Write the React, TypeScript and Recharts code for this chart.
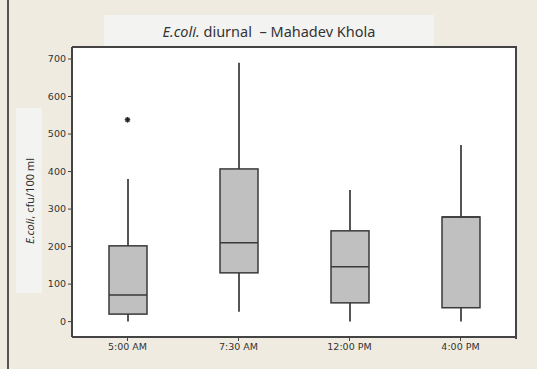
import { ComposedChart, Bar, Scatter, XAxis, YAxis, CartesianGrid } from 'recharts';

const categories = ['5:00 AM', '7:30 AM', '12:00 PM', '4:00 PM'];
const mins = [0, 26, 0, 0];
const q1s = [20, 130, 50, 37];
const medians = [71, 210, 146, 279];
const q3s = [202, 407, 242, 279];
const maxs = [380, 690, 351, 471];
const outliers: (number | null)[] = [538, null, null, null];
const yTicks = [0, 100, 200, 300, 400, 500, 600, 700];

const data = categories.map((name, i) => ({
    name,
    min: mins[i],
    q1: q1s[i],
    median: medians[i],
    q3: q3s[i],
    max: maxs[i],
    outlier: outliers[i],
}));

// draws whiskers, box and median from the range bar [min, max]
const BoxShape = (props: any) => {
    const { x, y, width, height, payload } = props;
    const k = height / (payload.max - payload.min);
    const py = (v: number) => y + (payload.max - v) * k;
    const cx = x + width / 2;
    return (
        <g>
            <line x1={cx} x2={cx} y1={py(payload.max)} y2={py(payload.q3)} stroke="#555" strokeWidth={2} />
            <line x1={cx} x2={cx} y1={py(payload.q1)} y2={py(payload.min)} stroke="#555" strokeWidth={2} />
            <rect
                x={x}
                y={py(payload.q3)}
                width={width}
                height={py(payload.q1) - py(payload.q3)}
                fill="#c0c0c0"
                stroke="#3a3a3a"
                strokeWidth={1.5}
            />
            <line x1={x} x2={x + width} y1={py(payload.median)} y2={py(payload.median)} stroke="#3a3a3a" strokeWidth={1.5} />
        </g>
    );
};

const Asterisk = (props: any) => {
    const { cx, cy, payload } = props;
    if (payload.outlier == null) return null;
    const r = 2.8;
    return (
        <g stroke="#222" strokeWidth={1.3}>
            <line x1={cx - r} x2={cx + r} y1={cy} y2={cy} />
            <line x1={cx - r * 0.7} x2={cx + r * 0.7} y1={cy - r * 0.7} y2={cy + r * 0.7} />
            <line x1={cx - r * 0.7} x2={cx + r * 0.7} y1={cy + r * 0.7} y2={cy - r * 0.7} />
            <line x1={cx} x2={cx} y1={cy - r} y2={cy + r} />
        </g>
    );
};

export default function App() {
    const tickStyle = { fontSize: 9.5, fill: '#333', fontFamily: 'DejaVu Sans' };
    return (
        <div
            style={{
                position: 'absolute',
                left: 0,
                top: 0,
                width: 537,
                height: 369,
                background: '#efebe1',
                fontFamily: '"Noto Sans", sans-serif',
            }}
        >
            <div style={{ position: 'absolute', left: 7, top: 0, width: 2, height: 369, background: '#555' }} />
            <div
                style={{
                    position: 'absolute',
                    left: 104,
                    top: 15,
                    width: 330,
                    height: 32,
                    background: '#f3f3f1',
                    textAlign: 'center',
                    lineHeight: '32px',
                    fontSize: 14.5,
                    color: '#333',
                }}
            >
                <i>E.coli.</i> diurnal &nbsp;– Mahadev Khola
            </div>
            <div
                style={{
                    position: 'absolute',
                    left: 16,
                    top: 108,
                    width: 26,
                    height: 185,
                    background: '#f3f3f1',
                }}
            >
                <div
                    style={{
                        position: 'absolute',
                        left: 13,
                        top: 93,
                        transform: 'translate(-50%, -50%) rotate(-90deg)',
                        whiteSpace: 'nowrap',
                        fontSize: 11,
                        color: '#333',
                    }}
                >
                    <i>E.coli</i>, cfu/100 ml
                </div>
            </div>
            <div style={{ position: 'absolute', left: 0, top: 0 }}>
                <ComposedChart
                    width={537}
                    height={369}
                    data={data}
                    margin={{ top: 47, right: 21, bottom: 2, left: 32 }}
                >
                    <CartesianGrid fill="#fff" horizontal={false} vertical={false} />
                    <XAxis
                        dataKey="name"
                        height={30}
                        tick={tickStyle}
                        tickLine={{ stroke: '#444' }}
                        tickSize={4}
                        axisLine={{ stroke: '#444', strokeWidth: 2 }}
                    />
                    <YAxis
                        domain={[-41, 732]}
                        ticks={yTicks}
                        width={40}
                        tick={tickStyle}
                        tickLine={{ stroke: '#444' }}
                        tickSize={4}
                        axisLine={{ stroke: '#444', strokeWidth: 2 }}
                        allowDataOverflow
                    />
                    <Bar
                        dataKey={(d: any) => [d.min, d.max]}
                        barSize={38}
                        shape={BoxShape}
                        isAnimationActive={false}
                    />
                    <Scatter dataKey="outlier" shape={Asterisk} isAnimationActive={false} />
                </ComposedChart>
            </div>
            <div
                style={{
                    position: 'absolute',
                    left: 72,
                    top: 46,
                    width: 443,
                    height: 291,
                    borderTop: '2px solid #444',
                    borderRight: '2px solid #444',
                    pointerEvents: 'none',
                }}
            />
        </div>
    );
}
